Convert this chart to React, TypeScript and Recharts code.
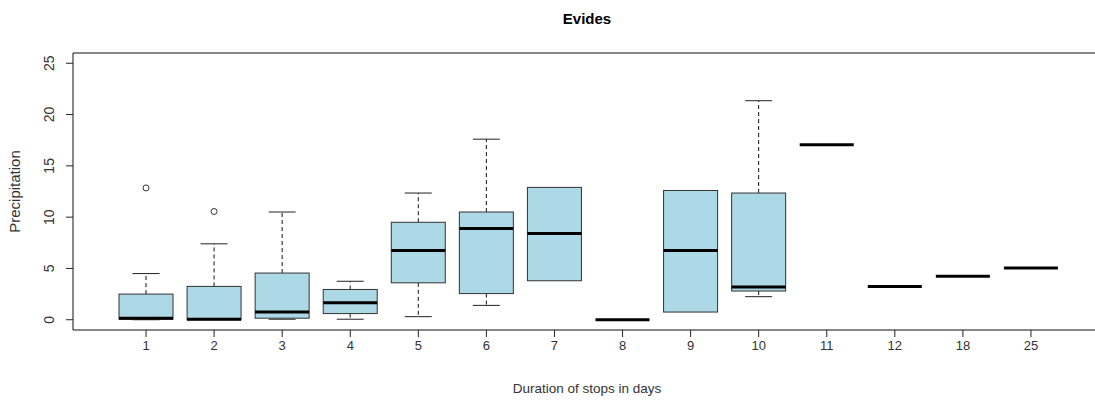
import React from 'react';
import { ComposedChart, Bar, XAxis, YAxis, Label, ReferenceLine } from 'recharts';

// Box plot stats per duration group
const categories = ['1', '2', '3', '4', '5', '6', '7', '8', '9', '10', '11', '12', '18', '25'];
const whiskerLow = [0, 0, 0.05, 0.05, 0.3, 1.4, 3.8, 0, 0.75, 2.25, 17.05, 3.25, 4.25, 5.05];
const lowerQuartile = [0.05, 0, 0.15, 0.6, 3.6, 2.55, 3.8, 0, 0.75, 2.8, 17.05, 3.25, 4.25, 5.05];
const medians = [0.15, 0.05, 0.75, 1.65, 6.75, 8.9, 8.4, 0, 6.75, 3.2, 17.05, 3.25, 4.25, 5.05];
const upperQuartile = [2.5, 3.25, 4.55, 2.95, 9.5, 10.5, 12.9, 0, 12.6, 12.35, 17.05, 3.25, 4.25, 5.05];
const whiskerHigh = [4.5, 7.4, 10.5, 3.75, 12.35, 17.6, 12.9, 0, 12.6, 21.35, 17.05, 3.25, 4.25, 5.05];
const outliers: number[][] = [[12.85], [10.55], [], [], [], [], [], [], [], [], [], [], [], []];
const yTicks = [0, 5, 10, 15, 20, 25];
const yDomain = [-1, 26];

const font = '"Liberation Sans", Arial, sans-serif';
const textColor = '#333';

const rows = categories.map((name, i) => {
  const all = [whiskerLow[i], whiskerHigh[i], ...outliers[i]];
  const lo = Math.min(...all) - 0.5;
  const hi = Math.max(...all) + 0.5;
  return {
    name,
    range: [lo, hi],
    lo,
    hi,
    wLow: whiskerLow[i],
    q1: lowerQuartile[i],
    med: medians[i],
    q3: upperQuartile[i],
    wHigh: whiskerHigh[i],
    out: outliers[i],
  };
});

function BoxShape(props: any) {
  const { x, y, width, height, payload } = props;
  if (!payload) return null;
  const { lo, hi } = payload;
  const h = Math.abs(height);
  const py = (v: number) => y + ((hi - v) * h) / (hi - lo);
  const cx = x + width / 2;
  const cap = width / 4;
  const single = payload.q1 === payload.q3;
  return (
    <g>
      {payload.wHigh > payload.q3 && (
        <>
          <line x1={cx} x2={cx} y1={py(payload.q3)} y2={py(payload.wHigh)} stroke="#111" strokeDasharray="4 3" />
          <line x1={cx - cap} x2={cx + cap} y1={py(payload.wHigh)} y2={py(payload.wHigh)} stroke="#222" />
        </>
      )}
      {payload.wLow < payload.q1 && (
        <>
          <line x1={cx} x2={cx} y1={py(payload.q1)} y2={py(payload.wLow)} stroke="#111" strokeDasharray="4 3" />
          <line x1={cx - cap} x2={cx + cap} y1={py(payload.wLow)} y2={py(payload.wLow)} stroke="#222" />
        </>
      )}
      {!single && (
        <rect
          x={x}
          y={py(payload.q3)}
          width={width}
          height={py(payload.q1) - py(payload.q3)}
          fill="#ADD8E6"
          stroke="#333"
          strokeWidth={1}
        />
      )}
      <line x1={x} x2={x + width} y1={py(payload.med)} y2={py(payload.med)} stroke="#000" strokeWidth={3} />
      {payload.out.map((v: number, k: number) => (
        <circle key={k} cx={cx} cy={py(v)} r={3} fill="none" stroke="#333" strokeWidth={1} />
      ))}
    </g>
  );
}

function XTick(props: any) {
  const { x, y, payload } = props;
  return (
    <text x={x} y={y + 10.5} textAnchor="middle" fontSize={13} fill={textColor} fontFamily={font}>
      {payload.value}
    </text>
  );
}

function YTick(props: any) {
  const { x, y, payload } = props;
  const bx = x - 10;
  return (
    <text
      x={bx}
      y={y}
      textAnchor="middle"
      fontSize={14}
      fill={textColor}
      fontFamily={font}
      transform={`rotate(-90, ${bx}, ${y})`}
    >
      {payload.value}
    </text>
  );
}

export default function App() {
  return (
    <div style={{ position: 'absolute', left: 0, top: 0, width: 1095, height: 402, overflow: 'hidden', background: '#fff' }}>
      <ComposedChart width={1095} height={402} data={rows} margin={{ top: 53, right: 0, bottom: 0, left: 0 }}>
        <XAxis
          dataKey="name"
          type="category"
          interval={0}
          padding={{ left: 39, right: 30 }}
          height={72}
          tickSize={7}
          tickLine={{ stroke: '#222' }}
          axisLine={{ stroke: '#111' }}
          tick={<XTick />}
        >
          <Label
            content={(p: any) => {
              const vb = p.viewBox;
              return (
                <text x={vb.x + vb.width / 2 + 3} y={vb.y + 63} textAnchor="middle" fontSize={13.5} fill={textColor} fontFamily={font}>
                  Duration of stops in days
                </text>
              );
            }}
          />
        </XAxis>
        <YAxis
          type="number"
          domain={yDomain}
          ticks={yTicks}
          allowDataOverflow
          width={73}
          tickSize={7}
          tickLine={{ stroke: '#222' }}
          axisLine={{ stroke: '#111' }}
          tick={<YTick />}
        >
          <Label
            content={(p: any) => {
              const vb = p.viewBox;
              const cy = vb.y + vb.height / 2;
              return (
                <text
                  x={19.5}
                  y={cy}
                  textAnchor="middle"
                  fontSize={15}
                  fill={textColor}
                  fontFamily={font}
                  transform={`rotate(-90, 19.5, ${cy})`}
                >
                  Precipitation
                </text>
              );
            }}
          />
        </YAxis>
        <ReferenceLine y={yDomain[1]} stroke="#111" strokeWidth={1} ifOverflow="extendDomain">
          <Label
            content={(p: any) => {
              const vb = p.viewBox;
              return (
                <text x={vb.x + vb.width / 2 + 3} y={vb.y - 29} textAnchor="middle" fontSize={15} fontWeight="bold" fill="#000" fontFamily={font}>
                  Evides
                </text>
              );
            }}
          />
        </ReferenceLine>
        <Bar dataKey="range" barSize={54} shape={<BoxShape />} isAnimationActive={false} />
      </ComposedChart>
    </div>
  );
}
